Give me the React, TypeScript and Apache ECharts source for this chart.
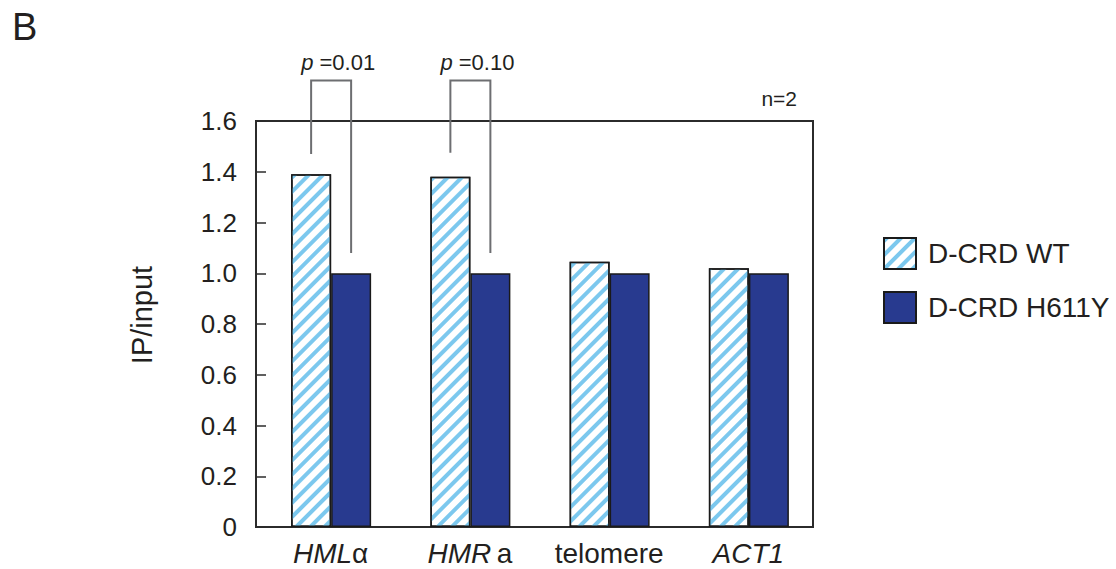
import React, { useEffect, useRef } from "react";
import * as echarts from "echarts";

const categories = ["HMLα", "HMRa", "telomere", "ACT1"];
const italicParts = ["HML", "HMR", "", "ACT1"];
const uprightParts = ["α", "\u2009a", "telomere", ""];
const wtValues = [1.39, 1.38, 1.045, 1.02];
const h611yValues = [1.0, 1.0, 1.0, 1.0];
const seriesNames = ["D-CRD WT", "D-CRD H611Y"];

const bracketCats = [0, 1];
const pValues = ["0.01", "0.10"];
const bracketTop = [1.76, 1.76];
const bracketLeftEnd = [1.47, 1.475];
const bracketRightEnd = [1.08, 1.08];

const FONT = '"Liberation Sans", Arial, Helvetica, sans-serif';
const TEXT = "#231f20";
const BAR_W = 40;
const PAD_W = 11;
const TOTAL_W = PAD_W + 2 * BAR_W;
const WT_OFF = -TOTAL_W / 2 + PAD_W + BAR_W / 2;
const H_OFF = WT_OFF + BAR_W;

export default function App() {
  const ref = useRef<HTMLDivElement>(null);
  useEffect(() => {
    if (!ref.current) return;
    const chart = echarts.init(ref.current, null, { renderer: "svg" });
    const bracketData = bracketCats.map((c, i) => [
      c,
      bracketTop[i],
      bracketLeftEnd[i],
      bracketRightEnd[i],
    ]);
    chart.setOption({
      animation: false,
      backgroundColor: "#ffffff",
      textStyle: { fontFamily: FONT, color: TEXT },
      grid: {
        left: 256,
        right: 303,
        top: 121,
        bottom: 42,
        show: true,
        borderColor: "#2b2b2b",
        borderWidth: 2,
        backgroundColor: "#ffffff",
      },
      legend: {
        data: seriesNames,
        orient: "vertical",
        left: 878,
        top: 232,
        itemWidth: 32,
        itemHeight: 31,
        itemGap: 21,
        icon: "rect",
        textStyle: {
          fontFamily: FONT,
          fontSize: 28,
          color: TEXT,
          padding: [0, 0, 0, 7],
        },
      },
      graphic: [
        {
          type: "text",
          left: 12,
          top: 8,
          style: { text: "B", font: `38px ${FONT}`, fill: TEXT },
        },
        {
          type: "text",
          x: 797,
          y: 98,
          style: {
            text: "n=2",
            font: `21px ${FONT}`,
            fill: TEXT,
            align: "right",
            verticalAlign: "middle",
          },
        },
      ],
      xAxis: {
        type: "category",
        data: categories,
        axisLine: { show: true, lineStyle: { color: "#2b2b2b", width: 2 } },
        axisTick: { show: false },
        axisLabel: {
          interval: 0,
          margin: 12,
          padding: [0, 0, 0, 10],
          fontSize: 28,
          color: TEXT,
          formatter: (v: string) => {
            const i = categories.indexOf(v);
            let s = "";
            if (italicParts[i]) s += `{i|${italicParts[i]}}`;
            if (uprightParts[i]) s += `{n|${uprightParts[i]}}`;
            return s;
          },
          rich: {
            i: { fontStyle: "italic", fontSize: 28, fontFamily: FONT, color: TEXT },
            n: { fontSize: 28, fontFamily: FONT, color: TEXT },
          },
        },
      },
      yAxis: {
        type: "value",
        min: 0,
        max: 1.6,
        interval: 0.2,
        name: "IP/input",
        nameLocation: "middle",
        nameGap: 100,
        nameRotate: 90,
        nameTextStyle: {
          fontSize: 29,
          color: TEXT,
          fontFamily: FONT,
          padding: [0, 0, 0, 18],
        },
        splitLine: { show: false },
        axisLine: { show: true, lineStyle: { color: "#2b2b2b", width: 2 } },
        axisTick: {
          show: true,
          inside: true,
          length: 10,
          lineStyle: { color: "#2b2b2b", width: 1.5 },
        },
        axisLabel: {
          margin: 19,
          fontSize: 26,
          color: TEXT,
          formatter: (v: number) => (v === 0 ? "0" : v.toFixed(1)),
        },
      },
      series: [
        {
          name: "pad",
          type: "bar",
          data: categories.map(() => 0),
          barWidth: PAD_W,
          barGap: "0%",
          silent: true,
          itemStyle: { color: "rgba(0,0,0,0)", borderWidth: 0, opacity: 0 },
        },
        {
          name: seriesNames[0],
          type: "bar",
          data: wtValues,
          barWidth: BAR_W,
          barGap: "0%",
          itemStyle: {
            color: "#ffffff",
            borderColor: "#1a1a1a",
            borderWidth: 1.5,
            decal: {
              symbol: "rect",
              symbolSize: 1,
              color: "#7cc8ee",
              dashArrayX: [1, 0],
              dashArrayY: [3.2, 5.3],
              rotation: -Math.PI / 4,
            },
          },
        },
        {
          name: seriesNames[1],
          type: "bar",
          data: h611yValues,
          barWidth: BAR_W,
          barGap: "0%",
          itemStyle: {
            color: "#283a8f",
            borderColor: "#1a1a1a",
            borderWidth: 1.5,
          },
        },
        {
          name: "brackets",
          type: "custom",
          data: bracketData,
          encode: { x: 0, y: 1 },
          clip: false,
          silent: true,
          z: 10,
          renderItem: (params: any, api: any) => {
            const idx = api.value(0);
            const top = api.coord([idx, api.value(1)]);
            const yL = api.coord([idx, api.value(2)])[1];
            const yR = api.coord([idx, api.value(3)])[1];
            const xL = top[0] + WT_OFF;
            const xR = top[0] + H_OFF;
            const yT = top[1];
            return {
              type: "group",
              children: [
                {
                  type: "polyline",
                  shape: {
                    points: [
                      [xL, yL],
                      [xL, yT],
                      [xR, yT],
                      [xR, yR],
                    ],
                  },
                  style: { stroke: "#6d6e71", lineWidth: 2, fill: null },
                },
                {
                  type: "text",
                  x: xL - 10,
                  y: yT - 18,
                  style: {
                    text: `{i|p} =${pValues[params.dataIndex]}`,
                    fontSize: 22,
                    fontFamily: FONT,
                    fill: TEXT,
                    align: "left",
                    verticalAlign: "middle",
                    rich: {
                      i: { fontStyle: "italic", fontSize: 22, fontFamily: FONT, fill: TEXT },
                    },
                  },
                },
              ],
            };
          },
        },
      ],
    });
    return () => chart.dispose();
  }, []);
  return (
    <div
      ref={ref}
      style={{ position: "absolute", left: 0, top: 0, width: 1116, height: 569 }}
    />
  );
}
